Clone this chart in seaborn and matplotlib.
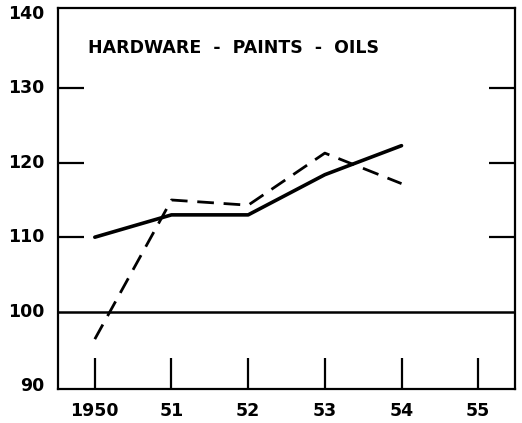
import numpy as np
import pandas as pd
import matplotlib
matplotlib.use("Agg")
import matplotlib.pyplot as plt
import seaborn as sns

# ------------------------------------------------------------
# Data
# ------------------------------------------------------------
years = [1950, 1951, 1952, 1953, 1954]
solid_values = [110, 113, 113, 118.4, 122.3]
dashed_values = [96.3, 115, 114.3, 121.3, 117.2]
tick_years = [1950, 1951, 1952, 1953, 1954, 1955]
tick_labels = ["1950", "51", "52", "53", "54", "55"]
y_labels = [90, 100, 110, 120, 130, 140]

df = pd.DataFrame({
    "year": years * 2,
    "value": solid_values + dashed_values,
    "series": ["solid"] * len(years) + ["dashed"] * len(years),
})

sns.set_style("white")
plt.rcParams["font.family"] = ["DejaVu Sans"]
plt.rcParams["font.weight"] = "bold"
plt.rcParams["text.color"] = "black"
plt.rcParams["xtick.color"] = "black"
plt.rcParams["ytick.color"] = "black"

fig = plt.figure(figsize=(5.22, 4.23), dpi=100)
ax = fig.add_axes([58 / 522, 1 - 389 / 423, (515 - 58) / 522, (389 - 8) / 423])

sns.lineplot(data=df[df["series"] == "solid"], x="year", y="value",
             color="black", linewidth=2.6, ax=ax, legend=False)
sns.lineplot(data=df[df["series"] == "dashed"], x="year", y="value",
             color="black", linewidth=2.0, ax=ax, legend=False,
             linestyle=(0, (6, 3.5)))

ax.axhline(100, color="black", linewidth=1.8)

ax.set_xlim(1949.52, 1955.48)
ax.set_ylim(89.6, 140.8)

# ticks drawn inward, left and right
ax.set_yticks([110, 120, 130])
ax.set_yticklabels([])
ax.tick_params(axis="y", direction="in", length=19, width=1.6,
               left=True, right=True, color="black")
ax.set_xticks(tick_years)
ax.set_xticklabels(tick_labels, fontsize=12.5, fontweight="bold")
ax.tick_params(axis="x", direction="in", length=22, width=1.6,
               bottom=True, color="black", pad=9, labelcolor="black")

# y labels placed as text outside the axes (including 90, 100, 140)
for v in y_labels:
    ax.text(-0.03, v, str(v), transform=ax.get_yaxis_transform(),
            ha="right", va="center", fontsize=12.5, fontweight="bold",
            color="black")

for s in ax.spines.values():
    s.set_color("black")
    s.set_linewidth(1.6)

ax.set_xlabel("")
ax.set_ylabel("")

ax.text(0.065, 0.895, "HARDWARE  -  PAINTS  -  OILS", transform=ax.transAxes,
        fontsize=12.5, fontweight="bold", ha="left", va="center", color="black")

fig.savefig("out.png", dpi=100)
